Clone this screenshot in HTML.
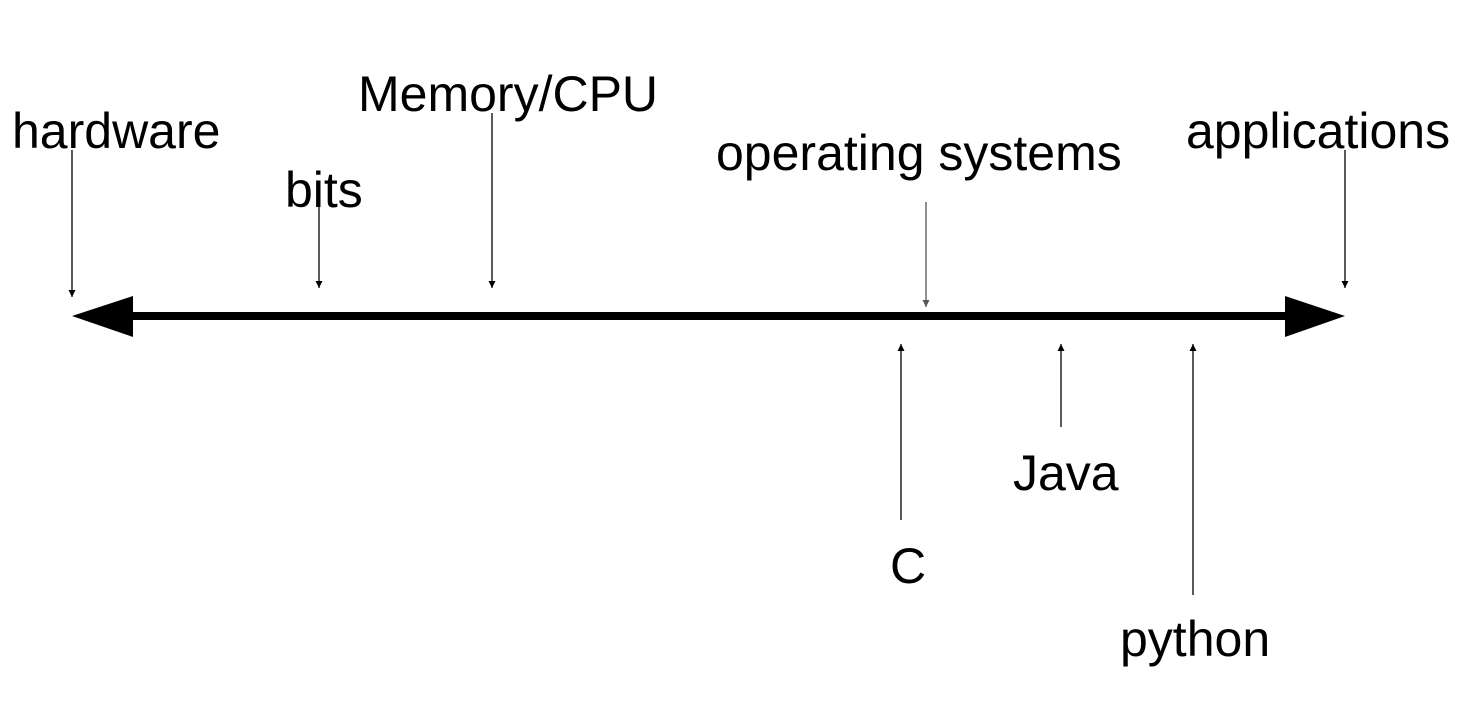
<!DOCTYPE html>
<html><head><meta charset="utf-8"><style>
html,body{margin:0;padding:0;background:#fff;}
svg{display:block;}
text{font-family:"Liberation Sans",Arial,sans-serif;font-size:50px;fill:#000;}
</style></head><body>
<svg width="1474" height="708" viewBox="0 0 1474 708" xmlns="http://www.w3.org/2000/svg">
<defs>
<marker id="a" viewBox="0 0 10 10" refX="10" refY="5" markerWidth="7" markerHeight="7" markerUnits="userSpaceOnUse" orient="auto">
<path d="M0,0 L10,5 L0,10 z" fill="#000"/></marker>
<marker id="g" viewBox="0 0 10 10" refX="10" refY="5" markerWidth="7" markerHeight="7" markerUnits="userSpaceOnUse" orient="auto">
<path d="M0,0 L10,5 L0,10 z" fill="#555"/></marker>
</defs>
<line x1="125" y1="316" x2="1292" y2="316" stroke="#000" stroke-width="8"/>
<polygon points="72,316 133,296 133,337" fill="#000"/>
<polygon points="1345,316 1285,296 1285,337" fill="#000"/>
<g stroke="#000" stroke-width="1.3" fill="none">
<line x1="72" y1="150" x2="72" y2="297" marker-end="url(#a)"/>
<line x1="319" y1="200" x2="319" y2="288" marker-end="url(#a)"/>
<line x1="492" y1="113" x2="492" y2="288" marker-end="url(#a)"/>
<line x1="1345" y1="150" x2="1345" y2="288" marker-end="url(#a)"/>
<line x1="901" y1="520" x2="901" y2="344" marker-end="url(#a)"/>
<line x1="1061" y1="427" x2="1061" y2="344" marker-end="url(#a)"/>
<line x1="1193" y1="595" x2="1193" y2="344" marker-end="url(#a)"/>
</g>
<line x1="926" y1="202" x2="926" y2="307" stroke="#555" stroke-width="1.3" marker-end="url(#g)"/>
<text x="12" y="148">hardware</text>
<text x="285" y="207">bits</text>
<text x="358" y="111">Memory/CPU</text>
<text x="716" y="170">operating systems</text>
<text x="1186" y="148">applications</text>
<text x="1013" y="490">Java</text>
<text x="890" y="583">C</text>
<text x="1120" y="656">python</text>
</svg>
</body></html>
